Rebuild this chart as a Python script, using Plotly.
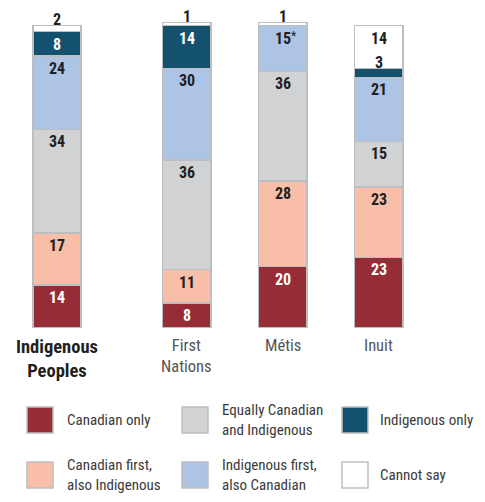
import plotly.graph_objects as go

# ---------------- data ----------------
groups = ["Indigenous Peoples", "First Nations", "Métis", "Inuit"]
group_tick_labels = ["<b>Indigenous<br>Peoples</b>", "First<br>Nations", "Métis", "Inuit"]
series_names = [
    "Canadian only",
    "Canadian first,<br>also Indigenous",
    "Equally Canadian<br>and Indigenous",
    "Indigenous first,<br>also Canadian",
    "Indigenous only",
    "Cannot say",
]
canadian_only = [14, 8, 20, 23]
canadian_first = [17, 11, 28, 23]
equally = [34, 36, 36, 15]
indigenous_first = [24, 30, 15, 21]
indigenous_only = [8, 14, 0, 3]
cannot_say = [2, 1, 1, 14]
footnote_marks = {(2, 3): "*"}  # Métis, Indigenous first

series_values = [canadian_only, canadian_first, equally, indigenous_first, indigenous_only, cannot_say]

# ---------------- style ----------------
# the page body has an 8 px margin, so the figure is drawn 8 px in from the window edges
W, H = 469, 486
FONT = "Roboto Condensed, DejaVu Sans Condensed, sans-serif"
colors = ["#962c35", "#f9bea7", "#d1d2d4", "#adc4e5", "#13516e", "#ffffff"]
label_colors = ["#ffffff", "#231f20", "#231f20", "#231f20", "#ffffff", "#231f20"]
outline = "#bdbec0"
bar_x = [0, 1.35, 2.35, 3.35]          # layout positions of the bars (unit = 96 px)
bar_width = 0.505
px_per_unit_x = 96
x_left_px = 49
px_per_unit_y = 3.05
y_zero_px = 319.5

x_range = [-x_left_px / px_per_unit_x, (W - x_left_px) / px_per_unit_x]
y_range = [-(H - y_zero_px) / px_per_unit_y, y_zero_px / px_per_unit_y]

fig = go.Figure()
for name, vals, col in zip(series_names, series_values, colors):
    fig.add_trace(go.Bar(
        x=bar_x, y=vals, width=bar_width, name=name.replace("<br>", " "),
        marker=dict(color=col, line=dict(color=outline, width=1.5)),
        showlegend=False, hoverinfo="skip",
    ))

annotations = []
# value labels
for gi in range(len(groups)):
    cum = 0
    for si, vals in enumerate(series_values):
        v = vals[gi]
        if v == 0:
            continue
        top = cum + v
        cum = top
        if v >= 5:
            annotations.append(dict(x=bar_x[gi], y=top, xref="x", yref="y", text=f"<b>{v}</b>",
                                    showarrow=False, yanchor="top", yshift=-1,
                                    font=dict(family=FONT, size=16, color=label_colors[si])))
        else:
            annotations.append(dict(x=bar_x[gi], y=top, xref="x", yref="y", text=f"<b>{v}</b>",
                                    showarrow=False, yanchor="middle", yshift=6,
                                    font=dict(family=FONT, size=16, color="#231f20")))
        mark = footnote_marks.get((gi, si))
        if mark:
            annotations.append(dict(x=bar_x[gi], y=top, xref="x", yref="y", text=mark,
                                    showarrow=False, yanchor="top", yshift=-1, xshift=11,
                                    font=dict(family=FONT, size=12, color="#231f20")))

# category labels
for gi, lab in enumerate(group_tick_labels):
    bold = gi == 0
    annotations.append(dict(x=bar_x[gi], y=1 - 326 / H, xref="x", yref="paper", text=lab,
                            showarrow=False, yanchor="top",
                            font=dict(family=FONT, size=18.5 if bold else 16.5,
                                      color="#231f20" if bold else "#555555")))

# legend (custom grid)
shapes = []
legend_cols = [19, 174, 334]
legend_rows = [399, 454]
text_offsets = [38, 38, 36]
order = [(0, 0, 0), (2, 0, 1), (4, 0, 2), (1, 1, 0), (3, 1, 1), (5, 1, 2)]
for si, r, c in order:
    x0 = legend_cols[c]
    y0 = legend_rows[r]
    shapes.append(dict(type="rect", xref="paper", yref="paper",
                       x0=x0 / W, x1=(x0 + 26) / W, y0=1 - y0 / H, y1=1 - (y0 + 26) / H,
                       fillcolor=colors[si], line=dict(color=outline, width=1.5)))
    annotations.append(dict(x=(x0 + text_offsets[c]) / W, y=1 - (y0 + 13) / H, xref="paper", yref="paper",
                            text=series_names[si], showarrow=False, xanchor="left", yanchor="middle",
                            align="left",
                            font=dict(family=FONT, size=15, color="#3a3a3a")))

fig.update_layout(
    width=W, height=H, autosize=False,
    margin=dict(l=0, r=0, t=0, b=0),
    barmode="stack", plot_bgcolor="white", paper_bgcolor="white",
    xaxis=dict(range=x_range, visible=False, fixedrange=True),
    yaxis=dict(range=y_range, visible=False, fixedrange=True),
    annotations=annotations, shapes=shapes,
    font=dict(family=FONT),
)
fig.write_html("out.html")
